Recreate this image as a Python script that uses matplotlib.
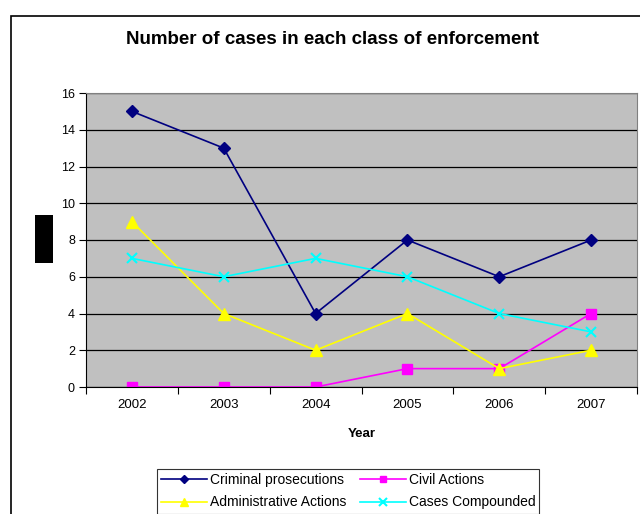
import matplotlib.pyplot as plt
import matplotlib.patches as patches
import numpy as np

plt.rcParams['font.family'] = ['Liberation Sans', 'DejaVu Sans']

# Data
years = ['2002', '2003', '2004', '2005', '2006', '2007']
criminal = [15, 13, 4, 8, 6, 8]
civil = [0, 0, 0, 1, 1, 4]
administrative = [9, 4, 2, 4, 1, 2]
compounded = [7, 6, 7, 6, 4, 3]

x = np.arange(len(years))

fig = plt.figure(figsize=(6.4, 5.14), dpi=100)

# outer chart border (runs off the right and bottom edges)
fig.patches.append(patches.Rectangle((11 / 640, -0.1), 1.2, 1 - 16 / 514 + 0.1,
                                     transform=fig.transFigure, fill=False,
                                     edgecolor='black', linewidth=1.2))
# redacted y-axis label
fig.patches.append(patches.Rectangle((35 / 640, 1 - 263 / 514), 18 / 640, 48 / 514,
                                     transform=fig.transFigure, facecolor='black',
                                     edgecolor='none'))

ax = fig.add_axes([86 / 640, 1 - 387 / 514, 551 / 640, 294 / 514])
ax.set_facecolor('#c0c0c0')

l1, = ax.plot(x, criminal, color='#000080', marker='D', markersize=6, lw=1.2,
              label='Criminal prosecutions')
l2, = ax.plot(x, civil, color='#ff00ff', marker='s', markersize=6.5, lw=1.2,
              label='Civil Actions')
l3, = ax.plot(x, administrative, color='#ffff00', marker='^', markersize=8, lw=1.2,
              label='Administrative Actions')
l4, = ax.plot(x, compounded, color='#00ffff', marker='x', markersize=7, mew=1.5, lw=1.2,
              label='Cases Compounded')

ax.set_ylim(0, 16)
ax.set_yticks(np.arange(0, 17, 2))
ax.yaxis.grid(True, color='black', linewidth=0.9)
ax.set_axisbelow(True)
ax.tick_params(axis='y', direction='out', length=5, labelsize=9, pad=3)

ax.set_xlim(-0.5, 5.5)
ax.set_xticks(np.arange(-0.5, 6, 1))
ax.set_xticklabels([])
ax.set_xticks(x, minor=True)
ax.set_xticklabels(years, minor=True)
ax.tick_params(axis='x', which='major', direction='out', length=5)
ax.tick_params(axis='x', which='minor', length=0, labelsize=9.5, pad=9)

for side in ('top', 'right'):
    ax.spines[side].set_color('#808080')
for side in ('left', 'bottom'):
    ax.spines[side].set_color('black')

ax.set_xlabel('Year', fontsize=9.5, fontweight='bold', labelpad=12)

fig.text(332 / 640, 1 - 40 / 514, 'Number of cases in each class of enforcement',
         ha='center', va='center', fontsize=13.5, fontweight='bold')

# row-major order like the original legend
leg = fig.legend([l1, l3, l2, l4],
                 [l1.get_label(), l3.get_label(), l2.get_label(), l4.get_label()],
                 loc='upper left', bbox_to_anchor=(150 / 640, 1 - 462 / 514),
                 ncol=2, fontsize=10, frameon=True, fancybox=False, markerscale=0.75,
                 borderpad=0.3, labelspacing=0.6, columnspacing=1.0,
                 handlelength=3.3, handletextpad=0.2)
leg.get_frame().set_edgecolor('black')
leg.get_frame().set_linewidth(0.8)

fig.savefig('out.png', dpi=100)
